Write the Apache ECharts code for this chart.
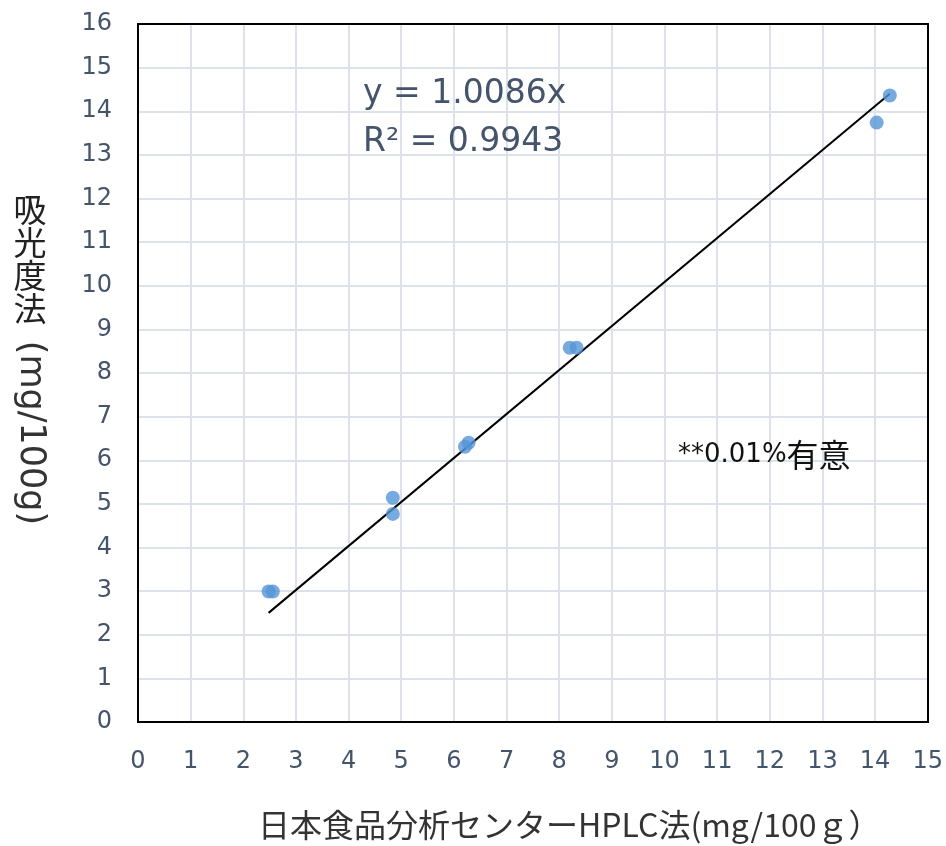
<!DOCTYPE html>
<html><head><meta charset="utf-8">
<script src="https://cdn.jsdelivr.net/npm/echarts@6/dist/echarts.min.js"></script>
<style>html,body{margin:0;padding:0;background:#fff}#c{width:946px;height:846px}</style>
</head><body><div id="c"></div>
<script>
const xValues = [2.48, 2.56, 4.84, 4.84, 6.21, 6.28, 8.20, 8.33, 14.03, 14.28];
const yValues = [2.99, 2.99, 5.14, 4.77, 6.31, 6.40, 8.58, 8.58, 13.74, 14.36];
const slope = 1.0086;
const r2 = 0.9943;
const xTitle = '日本食品分析センターHPLC法(mg/100ｇ）';
const yTitleCJK = ['吸', '光', '度', '法'];
const yTitleUnit = '(mg/100g)';
const noteNum = '**0.01%';
const noteCJK = '有意';

const pts = xValues.map((x, i) => [x, yValues[i]]);
const xMin = Math.min(...xValues), xMax = Math.max(...xValues);
const trend = [[xMin, slope * xMin], [xMax, slope * xMax]];

const chart = echarts.init(document.getElementById('c'));
const tickFont = {color: '#44546a', fontSize: 24, fontFamily: 'DejaVu Sans, sans-serif'};
const gl = 138, gt = 24, gr = 18, gb = 124;
chart.setOption({
  animation: false,
  grid: {left: gl, top: gt, right: gr, bottom: gb},
  xAxis: {type: 'value', min: 0, max: 15, interval: 1,
    axisLine: {show: false}, axisTick: {show: false},
    axisLabel: Object.assign({margin: 28}, tickFont),
    splitLine: {lineStyle: {color: '#dce1ea', width: 2}}},
  yAxis: {type: 'value', min: 0, max: 16, interval: 1,
    axisLine: {show: false}, axisTick: {show: false},
    axisLabel: Object.assign({margin: 26}, tickFont),
    splitLine: {lineStyle: {color: '#dce1ea', width: 2}}},
  series: [
    {type: 'line', data: trend, symbol: 'none', lineStyle: {color: '#000', width: 2}, z: 3},
    {type: 'scatter', data: pts, symbolSize: 14, itemStyle: {color: '#5595d6'}, z: 4}
  ],
  graphic: [
    {type: 'rect', z: 10, shape: {x: gl, y: gt, width: 946 - gl - gr, height: 846 - gt - gb},
      style: {fill: 'none', stroke: '#000', lineWidth: 2}},
    {type: 'text', x: 363, y: 94, z: 11, style: {text: 'y = ' + slope.toFixed(4) + 'x', fill: '#44546a', fontSize: 33, fontFamily: 'DejaVu Sans, sans-serif', verticalAlign: 'middle'}},
    {type: 'text', x: 363, y: 142, z: 11, style: {text: 'R² = ' + r2.toFixed(4), fill: '#44546a', fontSize: 33, fontFamily: 'DejaVu Sans, sans-serif', verticalAlign: 'middle'}},
    {type: 'text', x: 678, y: 455, z: 11, style: {
      text: '{a|' + noteNum + '}{b|' + noteCJK + '}', verticalAlign: 'middle',
      rich: {
        a: {fill: '#111', fontSize: 26, fontFamily: 'DejaVu Sans, sans-serif', verticalAlign: 'middle'},
        b: {fill: '#111', fontSize: 32, fontFamily: 'Noto Sans CJK JP, sans-serif', verticalAlign: 'middle'}
      }}},
    {type: 'text', x: 258, y: 825, z: 11, style: {text: xTitle, fill: '#333', fontSize: 32, fontFamily: 'Noto Sans CJK JP, sans-serif', verticalAlign: 'middle'}},
    {type: 'text', x: 30, y: 193, z: 11, style: {text: yTitleCJK.join('\n'), fill: '#222', fontSize: 33, lineHeight: 33, fontFamily: 'Noto Sans CJK JP, sans-serif', align: 'center', verticalAlign: 'top'}},
    {type: 'text', x: 30, y: 433, rotation: -Math.PI / 2, z: 11, style: {text: yTitleUnit, fill: '#333', fontSize: 35, fontFamily: 'DejaVu Sans, sans-serif', align: 'center', verticalAlign: 'middle'}}
  ]
});
</script></body></html>
